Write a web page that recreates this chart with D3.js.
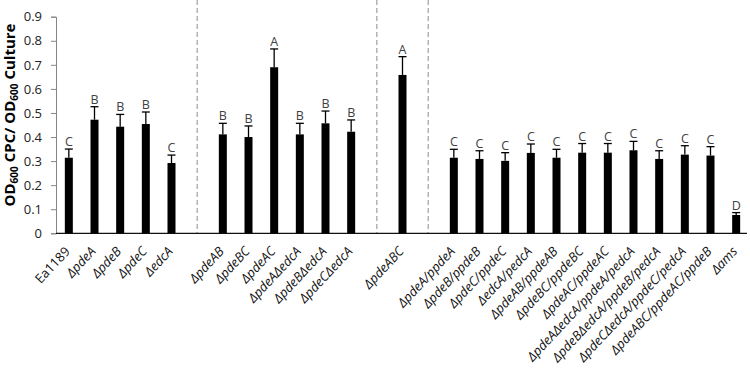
<!DOCTYPE html>
<html><head><meta charset="utf-8">
<script src="https://cdn.jsdelivr.net/npm/d3@7"></script>
<style>body{margin:0;background:#fff;}svg{display:block;}</style>
</head><body>
<script>
// slot-ordered categories ("" = empty slot with separator)
const categories = ["Ea1189","ΔpdeA","ΔpdeB","ΔpdeC","ΔedcA","",
  "ΔpdeAB","ΔpdeBC","ΔpdeAC","ΔpdeAΔedcA","ΔpdeBΔedcA","ΔpdeCΔedcA","",
  "ΔpdeABC","",
  "ΔpdeA/ppdeA","ΔpdeB/ppdeB","ΔpdeC/ppdeC","ΔedcA/pedcA","ΔpdeAB/ppdeAB","ΔpdeBC/ppdeBC","ΔpdeAC/ppdeAC",
  "ΔpdeAΔedcA/ppdeA/pedcA","ΔpdeBΔedcA/ppdeB/pedcA","ΔpdeCΔedcA/ppdeC/pedcA","ΔpdeABC/ppdeAC/ppdeB","Δams"];
const values = [0.314,0.472,0.443,0.454,0.292,null,
  0.411,0.400,0.690,0.411,0.457,0.422,null,
  0.658,null,
  0.314,0.309,0.301,0.334,0.314,0.335,0.335,0.345,0.309,0.327,0.323,0.076];
const errors = [0.036,0.054,0.051,0.050,0.033,null,
  0.046,0.046,0.076,0.046,0.051,0.049,null,
  0.076,null,
  0.035,0.034,0.034,0.037,0.035,0.038,0.038,0.037,0.034,0.037,0.037,0.010];
const letters = ["C","B","B","B","C","",
  "B","B","A","B","B","B","",
  "A","",
  "C","C","C","C","C","C","C","C","C","C","C","D"];
const yTicks = [0,0.1,0.2,0.3,0.4,0.5,0.6,0.7,0.8,0.9];

const W=750,H=374;
const svg=d3.select("body").append("svg").attr("width",W).attr("height",H);
const x=d3.scaleBand().domain(d3.range(categories.length)).range([56,749]).paddingInner(0).paddingOuter(0);
const y=d3.scaleLinear().domain([0,0.9]).range([233.3,16.7]);
const bw=8;

// y axis
const ya=svg.append("g").attr("transform","translate(56,0)")
  .call(d3.axisLeft(y).tickValues(yTicks).tickSize(5).tickPadding(9).tickFormat(d=>d===0?"0":d3.format(".1f")(d)));
ya.select(".domain").attr("stroke","#868686").attr("stroke-width",1);
ya.selectAll(".tick line").attr("stroke","#868686");
ya.selectAll(".tick text").attr("font-family","Open Sans, sans-serif").attr("font-size",13).attr("fill","#222");

// separators
categories.forEach((c,i)=>{
  if(c===""){
    const cx=x(i)+x.bandwidth()/2;
    svg.append("line").attr("x1",cx).attr("x2",cx).attr("y1",0).attr("y2",233.3)
      .attr("stroke","#8c8c8c").attr("stroke-width",1).attr("stroke-dasharray","5,3");
  }
});

// x axis
svg.append("line").attr("x1",56).attr("x2",747).attr("y1",233.3).attr("y2",233.3).attr("stroke","#111").attr("stroke-width",1.2);

const idx=d3.range(categories.length).filter(i=>values[i]!=null);
const g=svg.append("g");
idx.forEach(i=>{
  const cx=x(i)+x.bandwidth()/2;
  g.append("rect").attr("x",cx-bw/2).attr("y",y(values[i])).attr("width",bw).attr("height",y(0)-y(values[i])).attr("fill","#000");
  const top=y(values[i]+errors[i]);
  g.append("line").attr("x1",cx).attr("x2",cx).attr("y1",y(values[i])).attr("y2",top).attr("stroke","#000").attr("stroke-width",1.3);
  g.append("line").attr("x1",cx-4).attr("x2",cx+4).attr("y1",top).attr("y2",top).attr("stroke","#000").attr("stroke-width",1.3);
  g.append("text").attr("x",cx).attr("y",top-3).attr("text-anchor","middle")
    .attr("font-family","Open Sans, sans-serif").attr("font-size",12.5).attr("fill","#404040").text(letters[i]);
  const lx=cx+2, ly=252;
  g.append("text").attr("transform",`translate(${lx},${ly}) rotate(-47)`).attr("text-anchor","end")
    .attr("font-family","Open Sans, sans-serif").attr("font-size",13).attr("fill","#111")
    .attr("font-style",categories[i].startsWith("Δ")?"italic":"normal").text(categories[i]);
});

// y title
const t=svg.append("text").attr("transform","translate(15,115) rotate(-90)").attr("text-anchor","middle")
  .attr("font-family","Open Sans, sans-serif").attr("font-weight","bold").attr("font-size",15).attr("fill","#000");
t.append("tspan").text("OD");
t.append("tspan").attr("font-size",10).attr("dy",3).text("600");
t.append("tspan").attr("dy",-3).text(" CPC/ OD");
t.append("tspan").attr("font-size",10).attr("dy",3).text("600");
t.append("tspan").attr("dy",-3).text(" Culture");
</script>
</body></html>
